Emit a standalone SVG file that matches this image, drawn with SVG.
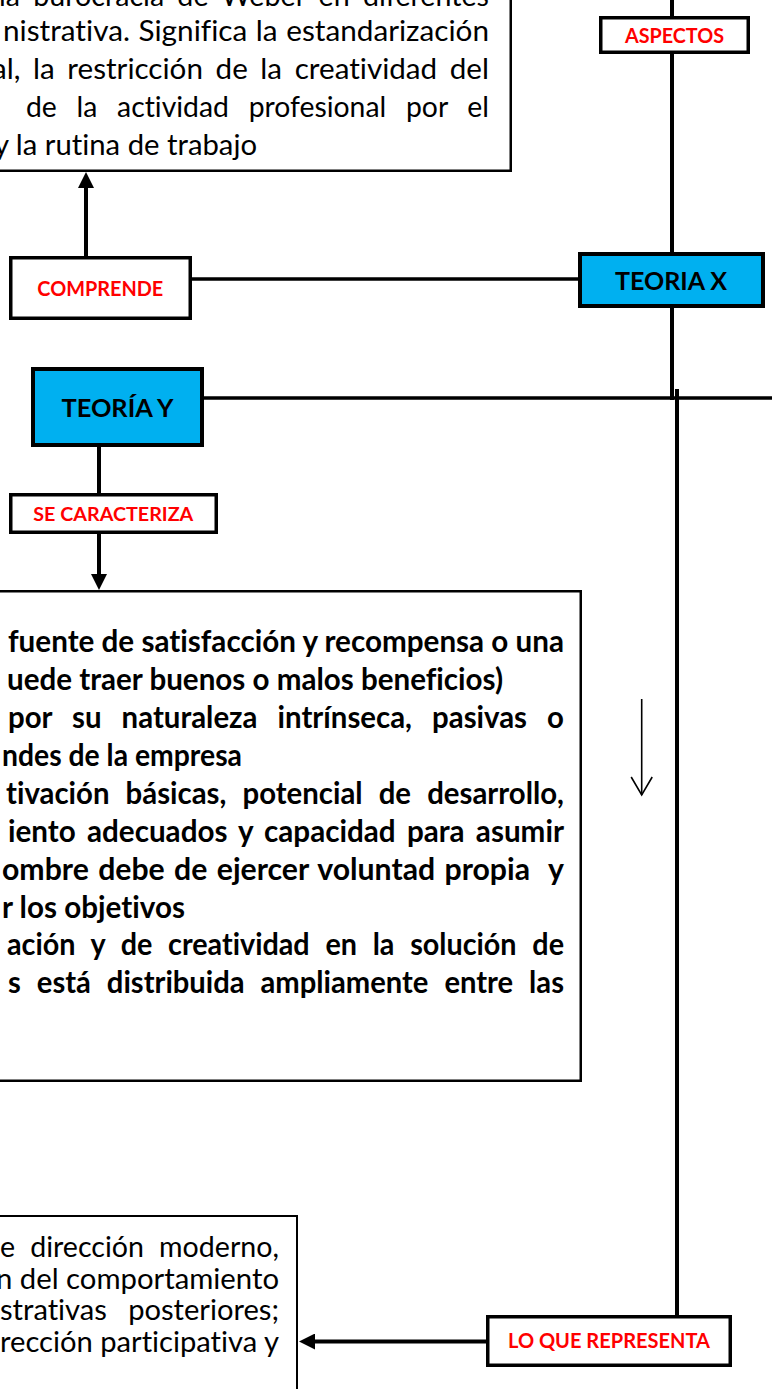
<svg xmlns="http://www.w3.org/2000/svg" width="772" height="1389" viewBox="0 0 772 1389">
<style>
.box{fill:#fff;stroke:#000;}
.txtbox{fill:#fff;stroke:#000;stroke-width:2.5;}
.lbl{fill:#fff;stroke:#000;stroke-width:3.5;}
.teo{fill:#00B0F0;stroke:#000;stroke-width:4;}
.red{font-family:Lato,"Liberation Sans",sans-serif;font-weight:bold;fill:#FF0000;text-anchor:middle;}
.blk{font-family:Lato,"Liberation Sans",sans-serif;font-weight:bold;fill:#000;text-anchor:middle;}
.body{font-family:Lato,"Liberation Sans",sans-serif;font-size:29.5px;fill:#000;font-variant-ligatures:none;font-feature-settings:"liga" 0,"clig" 0;}
.bold{font-weight:bold;}
.ln{stroke:#000;stroke-width:4;fill:none;}
.ln3{stroke:#000;stroke-width:3.5;fill:none;}
.thin{stroke:#000;stroke-width:1.6;fill:none;}
</style>
<defs>
<marker id="ah" viewBox="0 0 16 16" markerWidth="16" markerHeight="16" refX="8" refY="8" orient="auto" markerUnits="userSpaceOnUse">
<path d="M0,0 L16,8 L0,16 Z" fill="#000"/>
</marker>
<marker id="open" viewBox="0 0 24 24" markerWidth="24" markerHeight="24" refX="22" refY="12" orient="auto" markerUnits="userSpaceOnUse">
<path d="M4,1.5 L22,12 L4,22.5" fill="none" stroke="#000" stroke-width="1.6"/>
</marker>
</defs>

<g id="connectors">
<line class="ln" x1="672" y1="0" x2="672" y2="17"/>
<line class="ln" x1="672" y1="53" x2="672" y2="253"/>
<line class="ln" x1="672" y1="307" x2="672" y2="400"/>
<line class="ln3" x1="191" y1="279" x2="579" y2="279"/>
<line class="ln3" x1="203" y1="398" x2="772" y2="398"/>
<line class="ln" x1="677" y1="389" x2="677" y2="1316"/>
<line class="ln" x1="86" y1="256" x2="86" y2="180" marker-end="url(#ah)"/>
<line class="ln" x1="99" y1="446" x2="99" y2="494"/>
<line class="ln" x1="99" y1="533" x2="99" y2="582" marker-end="url(#ah)"/>
<line class="ln" x1="487" y1="1341.5" x2="307" y2="1341.5" marker-end="url(#ah)"/>
<line class="thin" x1="641.7" y1="699" x2="641.7" y2="795" marker-end="url(#open)"/>
</g>

<g id="node-top-text">
<rect class="txtbox" x="-10" y="-10" width="520.75" height="180.75"/>
<text class="body" x="-1" y="6" textLength="490" lengthAdjust="spacingAndGlyphs" word-spacing="6">la burocracia de Weber en diferentes</text>
<text class="body" x="3" y="40.5" textLength="486" lengthAdjust="spacingAndGlyphs" word-spacing="1">nistrativa. Significa la estandarización</text>
<text class="body" x="-8" y="79" textLength="497" lengthAdjust="spacingAndGlyphs" word-spacing="5">al, la restricción de la creatividad del</text>
<text class="body" x="26" y="117" textLength="463" lengthAdjust="spacingAndGlyphs" word-spacing="13">de la actividad profesional por el</text>
<text class="body" x="-6" y="155" textLength="263" lengthAdjust="spacingAndGlyphs">y la rutina de trabajo</text>
</g>

<g id="node-aspectos">
<rect class="lbl" x="600.75" y="17.75" width="147.5" height="34.5"/>
<text class="red" x="674.5" y="42.7" font-size="20" textLength="99" lengthAdjust="spacingAndGlyphs">ASPECTOS</text>
</g>

<g id="node-comprende">
<rect class="lbl" x="10.75" y="257.75" width="179.5" height="60.5"/>
<text class="red" x="100.3" y="296" font-size="20.5" textLength="126" lengthAdjust="spacingAndGlyphs">COMPRENDE</text>
</g>

<g id="node-teoria-x">
<rect class="teo" x="580" y="254" width="183" height="52"/>
<text class="blk" x="671" y="290" font-size="25.5" textLength="112" lengthAdjust="spacingAndGlyphs">TEORIA X</text>
</g>

<g id="node-teoria-y">
<rect class="teo" x="33" y="369" width="169" height="76"/>
<text class="blk" x="117.5" y="416.7" font-size="25.5" textLength="112" lengthAdjust="spacingAndGlyphs">TEORÍA Y</text>
</g>

<g id="node-se-caracteriza">
<rect class="lbl" x="10.75" y="494.75" width="205.5" height="37.5"/>
<text class="red" x="113.3" y="520.7" font-size="19.5" textLength="160" lengthAdjust="spacingAndGlyphs">SE CARACTERIZA</text>
</g>

<g id="node-middle-text">
<rect class="txtbox" x="-10" y="591.25" width="590.75" height="489.5"/>
<text class="body bold" x="8" y="652" textLength="556" lengthAdjust="spacingAndGlyphs">fuente de satisfacción y recompensa o una</text>
<text class="body bold" x="7" y="690" textLength="496" lengthAdjust="spacingAndGlyphs">uede traer buenos o malos beneficios)</text>
<text class="body bold" x="8" y="728" textLength="556" lengthAdjust="spacingAndGlyphs" word-spacing="13">por su naturaleza intrínseca, pasivas o</text>
<text class="body bold" x="2" y="766" textLength="240" lengthAdjust="spacingAndGlyphs">ndes de la empresa</text>
<text class="body bold" x="6" y="803.5" textLength="558" lengthAdjust="spacingAndGlyphs" word-spacing="9">tivación básicas, potencial de desarrollo,</text>
<text class="body bold" x="8" y="841.5" textLength="556" lengthAdjust="spacingAndGlyphs" word-spacing="4">iento adecuados y capacidad para asumir</text>
<text class="body bold" x="2" y="879.5" textLength="562" lengthAdjust="spacingAndGlyphs" word-spacing="2" style="white-space:pre">ombre debe de ejercer voluntad propia  y</text>
<text class="body bold" x="2" y="917.5" textLength="183" lengthAdjust="spacingAndGlyphs">r los objetivos</text>
<text class="body bold" x="7" y="955" textLength="557" lengthAdjust="spacingAndGlyphs" word-spacing="9">ación y de creatividad en la solución de</text>
<text class="body bold" x="8" y="993" textLength="556" lengthAdjust="spacingAndGlyphs" word-spacing="9">s está distribuida ampliamente entre las</text>
</g>

<g id="node-bottom-text">
<rect class="box" x="-10" y="1216" width="307" height="200" stroke-width="2"/>
<text class="body" x="0" y="1257" textLength="279" lengthAdjust="spacingAndGlyphs" word-spacing="8">e dirección moderno,</text>
<text class="body" x="-4" y="1288.5" textLength="283" lengthAdjust="spacingAndGlyphs">n del comportamiento</text>
<text class="body" x="0" y="1320" textLength="279" lengthAdjust="spacingAndGlyphs" word-spacing="14">strativas posteriores;</text>
<text class="body" x="0" y="1351.5" textLength="279" lengthAdjust="spacingAndGlyphs">rección participativa y</text>
</g>

<g id="node-lo-que-representa">
<rect class="lbl" x="487.75" y="1316.75" width="242.5" height="48.5"/>
<text class="red" x="609" y="1348" font-size="21" textLength="202" lengthAdjust="spacingAndGlyphs">LO QUE REPRESENTA</text>
</g>
</svg>
